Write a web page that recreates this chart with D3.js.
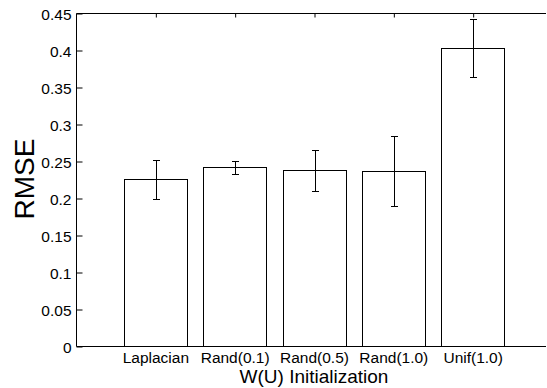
<!DOCTYPE html>
<html>
<head>
<meta charset="utf-8">
<script src="https://cdn.jsdelivr.net/npm/d3@7"></script>
<style>
  html, body { margin: 0; background: #fff; overflow: hidden; }
  svg { display: block; }
  svg text { font-family: "Liberation Sans", Arial, sans-serif; fill: #000; }
</style>
</head>
<body>
<svg id="chart" width="547" height="388"></svg>
<script>
// Data
var categories = ["Laplacian", "Rand(0.1)", "Rand(0.5)", "Rand(1.0)", "Unif(1.0)"];
var rmse = [0.226, 0.242, 0.238, 0.237, 0.403];
var errs = [0.026, 0.009, 0.028, 0.047, 0.039];
var yTicks = [0, 0.05, 0.1, 0.15, 0.2, 0.25, 0.3, 0.35, 0.4, 0.45];

// plot box (right edge sits past the window, as in the reference)
var plotLeft = 76.5, plotTop = 13.5, plotBottom = 346.5, plotRight = 552.5;
var visibleRight = 546;

var svg = d3.select("#chart");

// x positions are 1..5 on a 0..6 axis (like MATLAB bar)
var x = d3.scaleLinear().domain([0, 6]).range([plotLeft, plotRight]);
var y = d3.scaleLinear().domain([0, 0.45]).range([plotBottom, plotTop]);
var barW = (x(1) - x(0)) * 0.8;

var data = categories.map(function(c, i) {
    return { name: c, pos: i + 1, v: rmse[i], e: errs[i] };
});

function px(v) { return Math.round(v) + 0.5; }

// Bars
svg.selectAll(".bar")
    .data(data)
    .enter().append("rect")
    .attr("class", "bar")
    .attr("x", function(d) { return px(x(d.pos) - barW / 2); })
    .attr("y", function(d) { return px(y(d.v)); })
    .attr("width", Math.round(barW))
    .attr("height", function(d) { return plotBottom - px(y(d.v)); })
    .attr("fill", "#fff")
    .attr("stroke", "#000")
    .attr("stroke-width", 1);

// Error bars
var eb = svg.selectAll(".err")
    .data(data)
    .enter().append("g")
    .attr("class", "err")
    .attr("stroke", "#000")
    .attr("stroke-width", 1);

eb.append("line")
    .attr("x1", function(d) { return px(x(d.pos)); })
    .attr("x2", function(d) { return px(x(d.pos)); })
    .attr("y1", function(d) { return px(y(d.v + d.e)); })
    .attr("y2", function(d) { return px(y(d.v - d.e)); });

[1, -1].forEach(function(s) {
    eb.append("line")
        .attr("x1", function(d) { return px(x(d.pos)) - 3.5; })
        .attr("x2", function(d) { return px(x(d.pos)) + 3.5; })
        .attr("y1", function(d) { return px(y(d.v + s * d.e)); })
        .attr("y2", function(d) { return px(y(d.v + s * d.e)); });
});

// Frame: left, top and bottom lines (right side is outside the window)
svg.append("line")
    .attr("x1", plotLeft).attr("x2", visibleRight)
    .attr("y1", plotTop).attr("y2", plotTop)
    .attr("stroke", "#000");
svg.append("line")
    .attr("x1", plotLeft).attr("x2", visibleRight)
    .attr("y1", plotBottom).attr("y2", plotBottom)
    .attr("stroke", "#000");
svg.append("line")
    .attr("x1", plotLeft).attr("x2", plotLeft)
    .attr("y1", plotTop).attr("y2", plotBottom)
    .attr("stroke", "#000");

// Left axis: inward ticks
var yAxis = svg.append("g")
    .attr("transform", "translate(" + plotLeft + ",0)")
    .call(d3.axisRight(y).tickValues(yTicks).tickSize(6).tickFormat(d3.format("")));
yAxis.select(".domain").remove();
yAxis.selectAll("text")
    .attr("x", -5)
    .attr("text-anchor", "end")
    .attr("fill", "#000")
    .style("font-size", "15.5px")
    .attr("dy", "0.36em");

// Top axis: inward ticks at category positions
var topAxis = svg.append("g")
    .attr("transform", "translate(0," + plotTop + ")")
    .call(d3.axisBottom(x).tickValues(d3.range(1, 6)).tickSize(4).tickFormat(""));
topAxis.select(".domain").remove();

// Bottom category labels
svg.selectAll(".xlabel")
    .data(data)
    .enter().append("text")
    .attr("class", "xlabel")
    .attr("x", function(d) { return x(d.pos); })
    .attr("y", 363)
    .attr("text-anchor", "middle")
    .style("font-size", "15.5px")
    .text(function(d) { return d.name; });

// Axis titles
svg.append("text")
    .attr("x", 314)
    .attr("y", 383)
    .attr("text-anchor", "middle")
    .style("font-size", "19px")
    .text("W(U) Initialization");

svg.append("text")
    .attr("transform", "translate(34,179) rotate(-90)")
    .attr("text-anchor", "middle")
    .style("font-size", "28px")
    .text("RMSE");
</script>
</body>
</html>
